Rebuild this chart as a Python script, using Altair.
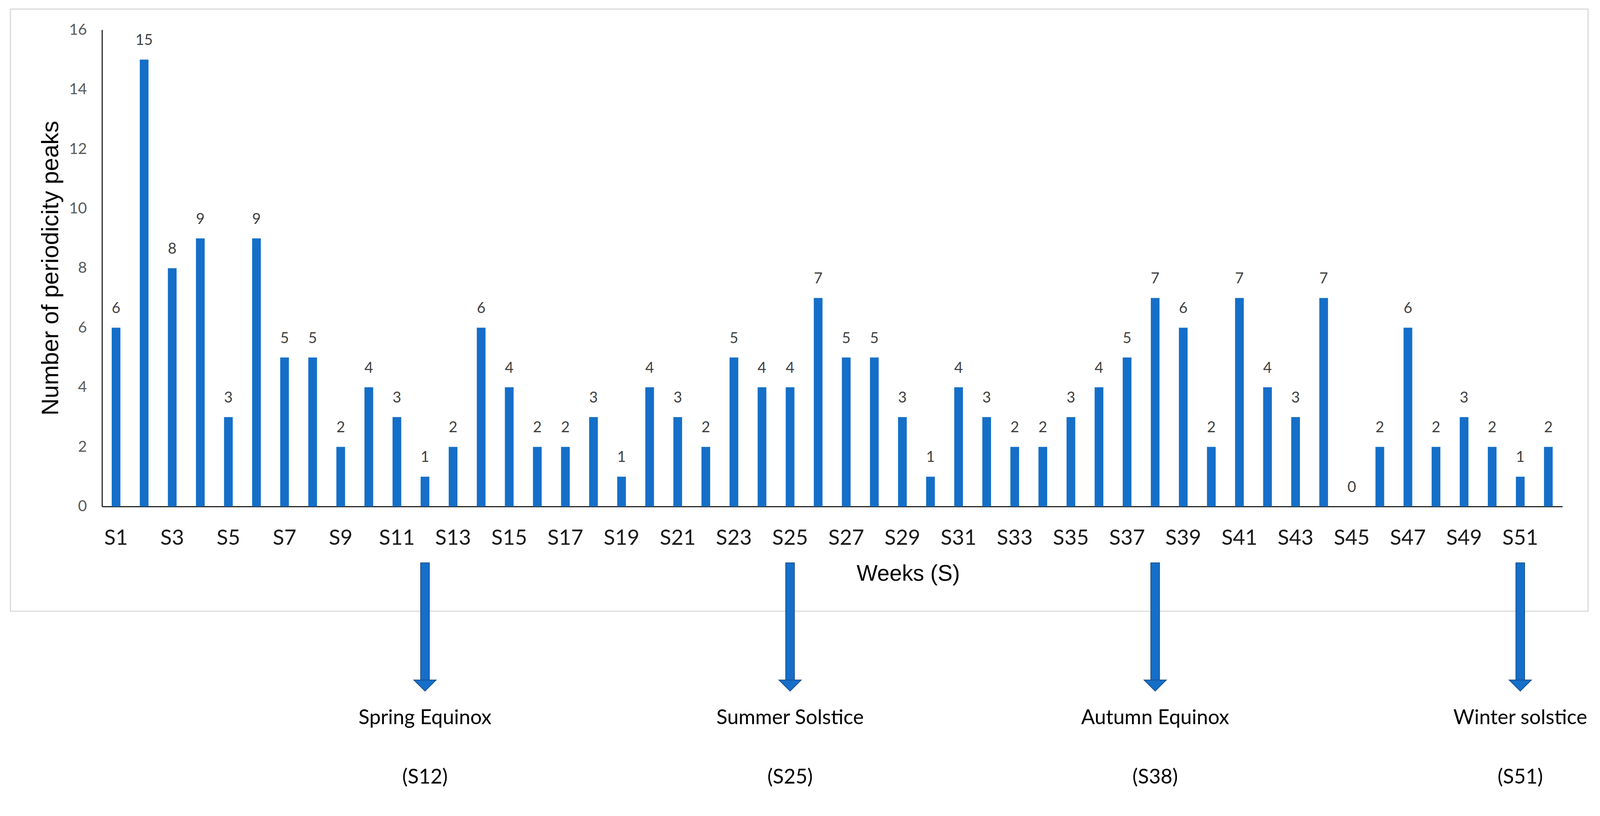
import altair as alt
import pandas as pd

# Weekly counts of periodicity peaks
weeks = [f"S{i}" for i in range(1, 53)]
peaks = [6, 15, 8, 9, 3, 9, 5, 5, 2, 4, 3, 1, 2, 6, 4, 2, 2, 3, 1, 4, 3, 2, 5, 4, 4, 7,
         5, 5, 3, 1, 4, 3, 2, 2, 3, 4, 5, 7, 6, 2, 7, 4, 3, 7, 0, 2, 6, 2, 3, 2, 1, 2]
y_ticks = [0, 2, 4, 6, 8, 10, 12, 14, 16]
x_ticks = weeks[::2]

# Seasonal markers under the axis
events = ["Spring Equinox", "Summer Solstice", "Autumn Equinox", "Winter solstice"]
event_weeks = ["S12", "S25", "S38", "S51"]

df = pd.DataFrame({"Week": weeks, "Peaks": peaks})
ev = pd.DataFrame({"Week": event_weeks, "Event": events,
                   "Label": ["(" + w + ")" for w in event_weeks]})

BLUE = "#156fc8"
DARK = "#1b4f8f"

x_enc = alt.X("Week:N", sort=weeks,
              scale=alt.Scale(paddingInner=0.69, paddingOuter=0.345),
              axis=alt.Axis(values=x_ticks, labelAngle=0, ticks=False, tickSize=0,
                            labelFont="Lato", labelFontSize=55, labelColor="#1a1a1a",
                            labelBaseline="alphabetic", labelPadding=99,
                            domainColor="#262626", domainWidth=3,
                            title="Weeks (S)", titleFont="Liberation Sans",
                            titleFontSize=58, titleFontWeight="normal", titleColor="#000000",
                            titleX=2103, titleY=193, titleBaseline="alphabetic",
                            titleAlign="center"))

y_enc = alt.Y("Peaks:Q", scale=alt.Scale(domain=[0, 16], nice=False),
              axis=alt.Axis(values=y_ticks, grid=False, ticks=False, tickSize=0,
                            labelFont="Lato", labelFontSize=40, labelColor="#595959",
                            labelPadding=40, domainColor="#262626", domainWidth=3,
                            title="Number of periodicity peaks", titleFont="Liberation Sans",
                            titleFontSize=62, titleFontWeight="normal", titleColor="#000000",
                            titleX=-134, titleY=621, titleBaseline="middle",
                            titleAlign="center"))

# outer chart-area frame
frame = alt.Chart(pd.DataFrame({"a": [0]})).mark_rect(
    fillOpacity=0, stroke="#d9d9d9", strokeWidth=3
).encode(x=alt.value(-239), x2=alt.value(3877), y=alt.value(-54), y2=alt.value(1516))

bars = alt.Chart(df).mark_bar(color=BLUE).encode(x=x_enc, y=y_enc)

values = alt.Chart(df).mark_text(
    font="Lato", fontSize=39, color="#404040", baseline="alphabetic", dy=-38
).encode(x=x_enc, y=y_enc, text="Peaks:Q")

shaft = alt.Chart(ev).mark_rect(color=BLUE, stroke=DARK, strokeWidth=2).encode(
    x=x_enc, y=alt.value(1390), y2=alt.value(1697))

head = alt.Chart(ev).mark_point(
    shape="M-1,-0.5L1,-0.5L0,0.5Z", size=3364, filled=True, fill=BLUE,
    stroke=DARK, strokeWidth=2, opacity=1
).encode(x=x_enc, y=alt.value(1710))

names = alt.Chart(ev).mark_text(
    font="Lato", fontSize=53, color="#000000", baseline="middle"
).encode(x=x_enc, y=alt.value(1795), text="Event:N")

subs = alt.Chart(ev).mark_text(
    font="Lato", fontSize=53, color="#000000", baseline="middle"
).encode(x=x_enc, y=alt.value(1950), text="Label:N")

chart = alt.layer(frame, bars, values, shaft, head, names, subs).properties(
    width=3810, height=1243,
    autosize=alt.AutoSizeParams(type="none"),
    padding={"left": 258, "top": 50, "right": 90, "bottom": 760},
    background="white",
).configure_view(strokeWidth=0)

chart.save("out.html", embed_options={"renderer": "svg", "actions": False})
